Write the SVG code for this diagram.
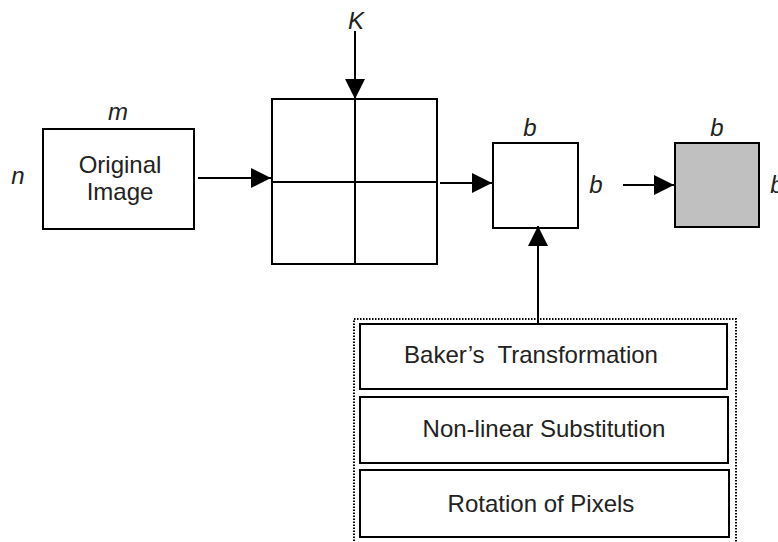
<svg xmlns="http://www.w3.org/2000/svg" width="778" height="542" viewBox="0 0 778 542">
<defs>
<marker id="ah" markerWidth="20" markerHeight="20" viewBox="0 0 20 20" refX="20" refY="10" orient="auto" markerUnits="userSpaceOnUse">
<path d="M0,0 L20,10 L0,20 Z" fill="#000"/>
</marker>
<style>
.box{fill:#fff;stroke:#000;stroke-width:2}
.gray{fill:#c0c0c0;stroke:#000;stroke-width:2}
.ln{stroke:#000;stroke-width:2;fill:none}
.con{stroke:#000;stroke-width:2;fill:none;marker-end:url(#ah)}
.t{font-family:"Liberation Sans",Arial,sans-serif;font-size:24px;fill:#222;text-anchor:middle}
.i{font-family:"Liberation Sans",Arial,sans-serif;font-size:24px;font-style:italic;fill:#222;text-anchor:middle}
.dot{fill:none;stroke:#000;stroke-width:2;stroke-dasharray:1.5 1.5}
</style>
</defs>
<rect width="778" height="542" fill="#fff"/>
<g id="original">
<rect class="box" x="43" y="129" width="151" height="100"/>
<text class="t" x="120" y="173">Original</text>
<text class="t" x="120" y="200">Image</text>
<text class="i" x="118" y="120">m</text>
<text class="i" x="18" y="184">n</text>
</g>
<g id="grid">
<rect class="box" x="272" y="99" width="165" height="165"/>
<line class="ln" x1="355" y1="99" x2="355" y2="264"/>
<line class="ln" x1="272" y1="182" x2="437" y2="182"/>
</g>
<g id="key"><text class="i" x="356" y="29">K</text></g>
<g id="block">
<rect class="box" x="493" y="143" width="85" height="85"/>
<text class="i" x="530" y="136">b</text>
<text class="i" x="596" y="193">b</text>
</g>
<g id="output">
<rect class="gray" x="675" y="143" width="84" height="84"/>
<text class="i" x="717" y="136">b</text>
<text class="i" x="777" y="193">b</text>
</g>
<g id="ops">
<rect class="dot" x="354" y="319" width="382" height="230"/>
<g id="baker">
<rect class="box" x="360" y="324" width="367" height="65"/>
<text class="t" x="531" y="363" xml:space="preserve">Baker’s  Transformation</text>
</g>
<g id="nonlinear">
<rect class="box" x="360" y="397" width="368" height="66"/>
<text class="t" x="544" y="437">Non-linear Substitution</text>
</g>
<g id="rotation">
<rect class="box" x="360" y="470" width="369" height="67"/>
<text class="t" x="541" y="512">Rotation of Pixels</text>
</g>
</g>
<g id="connectors">
<line class="con" x1="198" y1="178" x2="271" y2="178"/>
<line class="con" x1="355" y1="31" x2="355" y2="99"/>
<line class="con" x1="440" y1="183" x2="492" y2="183"/>
<line class="con" x1="623" y1="185" x2="674" y2="185"/>
<line class="con" x1="538" y1="324" x2="538" y2="226"/>
</g>
</svg>
